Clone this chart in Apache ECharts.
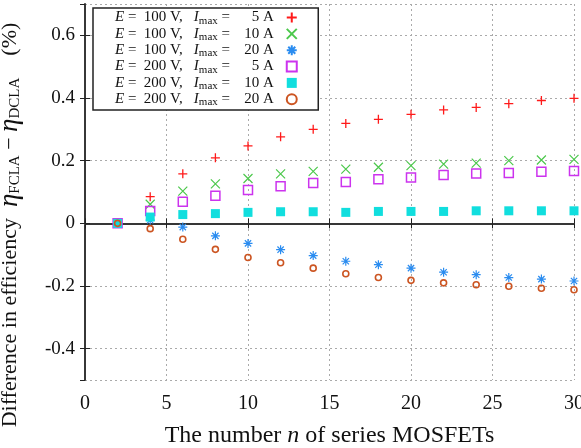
<!DOCTYPE html>
<html>
<head>
<meta charset="utf-8">
<script src="https://cdn.jsdelivr.net/npm/echarts@6/dist/echarts.min.js"></script>
<style>
  html, body { margin: 0; padding: 0; background: #fff; }
  #chart { width: 581px; height: 448px; }
</style>
</head>
<body>
<div id="chart"></div>
<script>
// series MOSFET count
const nValues = [2, 4, 6, 8, 10, 12, 14, 16, 18, 20, 22, 24, 26, 28, 30];

// legend conditions
const voltages = [100, 100, 100, 200, 200, 200];
const currents = [5, 10, 20, 5, 10, 20];

// efficiency difference (%)
const e100i5 = [0, 0.085, 0.158, 0.209, 0.247, 0.276, 0.300, 0.319, 0.332, 0.348, 0.362, 0.370, 0.382, 0.392, 0.399];
const e100i10 = [0, 0.061, 0.103, 0.126, 0.143, 0.158, 0.166, 0.173, 0.179, 0.184, 0.189, 0.192, 0.200, 0.202, 0.204];
const e100i20 = [0, 0.010, -0.012, -0.040, -0.064, -0.084, -0.103, -0.121, -0.132, -0.143, -0.156, -0.164, -0.173, -0.178, -0.184];
const e200i5 = [0, 0.039, 0.069, 0.088, 0.106, 0.118, 0.129, 0.132, 0.141, 0.146, 0.154, 0.159, 0.161, 0.165, 0.167];
const e200i10 = [0, 0.020, 0.028, 0.031, 0.035, 0.037, 0.037, 0.035, 0.038, 0.038, 0.038, 0.040, 0.040, 0.040, 0.040];
const e200i20 = [0, -0.017, -0.051, -0.083, -0.109, -0.126, -0.143, -0.161, -0.173, -0.182, -0.190, -0.196, -0.201, -0.207, -0.212];

const FONT = 'Liberation Serif';

const plus = 'path://M5,0L5,10M0,5L10,5';
const cross = 'path://M0,0L10,10M0,10L10,0';
const star = 'path://M5,0L5,10M0,5L10,5M1.5,1.5L8.5,8.5M1.5,8.5L8.5,1.5';

const styles = [
    { symbol: plus, size: 9, color: 'none', border: '#ff1a1a', bw: 1.3 },
    { symbol: cross, size: 9, color: 'none', border: '#4cc84c', bw: 1.2 },
    { symbol: star, size: 9, color: 'none', border: '#2a8cf0', bw: 1.2 },
    { symbol: 'rect', size: 9, color: 'none', border: '#cc33ee', bw: 1.5 },
    { symbol: 'rect', size: 9, color: '#11dede', border: '#11dede', bw: 0 },
    { symbol: 'circle', size: 6, color: 'none', border: '#cc5522', bw: 1.6 }
];
const allData = [e100i5, e100i10, e100i20, e200i5, e200i10, e200i20];

const names = voltages.map((v, i) => 'E' + v + 'I' + currents[i]);

const chart = echarts.init(document.getElementById('chart'), null, { renderer: 'canvas' });

const series = allData.map((vals, i) => ({
    name: names[i],
    type: 'scatter',
    data: nValues.map((n, k) => [n, vals[k]]),
    symbol: styles[i].symbol,
    symbolSize: styles[i].size,
    symbolKeepAspect: true,
    clip: false,
    itemStyle: {
        color: styles[i].color,
        borderColor: styles[i].border,
        borderWidth: styles[i].bw,
        opacity: 1
    },
    emphasis: { disabled: true },
    z: 3 + i
}));

const txt = (size, extra) => Object.assign({ fontFamily: FONT, fontSize: size, color: '#111' }, extra || {});
const LH = 17.7;

const option = {
    backgroundColor: '#fff',
    animation: false,
    textStyle: { fontFamily: FONT },
    grid: { left: 85, right: 7, top: 4, bottom: 68, containLabel: false, outerBoundsMode: 'none' },
    legend: {
        orient: 'vertical',
        left: 93,
        top: 8,
        align: 'right',
        itemGap: 0,
        itemWidth: 10,
        itemHeight: 10,
        padding: [2, 19, 2, 22],
        backgroundColor: '#fff',
        borderColor: '#222',
        borderWidth: 1.5,
        selectedMode: false,
        data: names,
        formatter: function (name) {
            const i = names.indexOf(name);
            return '{it|E}{t| =  }{v|' + voltages[i] + ' V,}{it|I}{sub|max}{t| = }{num|' + currents[i] + ' A}';
        },
        textStyle: txt(15, {
            padding: [0, 8, 0, 0],
            rich: {
                t: txt(15, { lineHeight: LH, align: 'left' }),
                it: txt(15, { lineHeight: LH, fontStyle: 'italic', align: 'left' }),
                v: txt(15, { lineHeight: LH, width: 50, align: 'left' }),
                sub: txt(11, { lineHeight: 11, verticalAlign: 'bottom', align: 'left' }),
                num: txt(15, { lineHeight: LH, width: 40, align: 'right' })
            }
        })
    },
    xAxis: [{
        type: 'value',
        min: 0,
        max: 30,
        interval: 5,
        name: '{t|The number }{it|n}{t| of series MOSFETs}',
        nameLocation: 'middle',
        nameGap: 44,
        nameTextStyle: {
            rich: {
                t: txt(24),
                it: txt(24, { fontStyle: 'italic' })
            }
        },
        axisLine: { show: true, lineStyle: { color: '#777', width: 2 } },
        axisTick: { show: true, inside: true, length: 5, lineStyle: { color: '#222' } },
        axisLabel: txt(20, { margin: 14 }),
        splitLine: { show: true, lineStyle: { color: '#aaa', type: [2, 3], width: 1 } }
    }, {
        type: 'value',
        position: 'top',
        min: 0,
        max: 30,
        interval: 5,
        axisLine: { show: true, lineStyle: { color: '#222', width: 1.5 } },
        axisTick: { show: true, inside: true, length: 5, lineStyle: { color: '#222' } },
        axisLabel: { show: false },
        splitLine: { show: false }
    }],
    yAxis: [{
        type: 'value',
        min: -0.5,
        max: 0.7,
        splitNumber: 6,
        name: '{t|Difference in efficiency  }{e|η}{sub|FCLA}{t| − }{e|η}{sub|DCLA}{t|    (%)}',
        nameLocation: 'middle',
        nameGap: 62,
        nameTextStyle: {
            padding: [0, 66, 0, 0],
            rich: {
                t: txt(22, { lineHeight: 26 }),
                e: txt(27, { lineHeight: 26, fontStyle: 'italic' }),
                sub: txt(15, { lineHeight: 15, verticalAlign: 'bottom' })
            }
        },
        axisLine: { show: true, lineStyle: { color: '#777', width: 2 } },
        axisTick: { show: true, inside: true, length: 5, lineStyle: { color: '#222' } },
        axisLabel: txt(19, {
            margin: 10,
            showMinLabel: false,
            showMaxLabel: false,
            formatter: v => String(Math.round(v * 10) / 10)
        }),
        splitLine: { show: true, lineStyle: { color: '#aaa', type: [2, 3], width: 1 } }
    }, {
        type: 'value',
        position: 'right',
        min: -0.5,
        max: 0.7,
        splitNumber: 6,
        axisLine: { show: true, lineStyle: { color: '#222', width: 1.5 } },
        axisTick: { show: true, inside: true, length: 5, lineStyle: { color: '#222' } },
        axisLabel: { show: false },
        splitLine: { show: false }
    }],
    series: series
};

chart.setOption(option);
</script>
</body>
</html>
